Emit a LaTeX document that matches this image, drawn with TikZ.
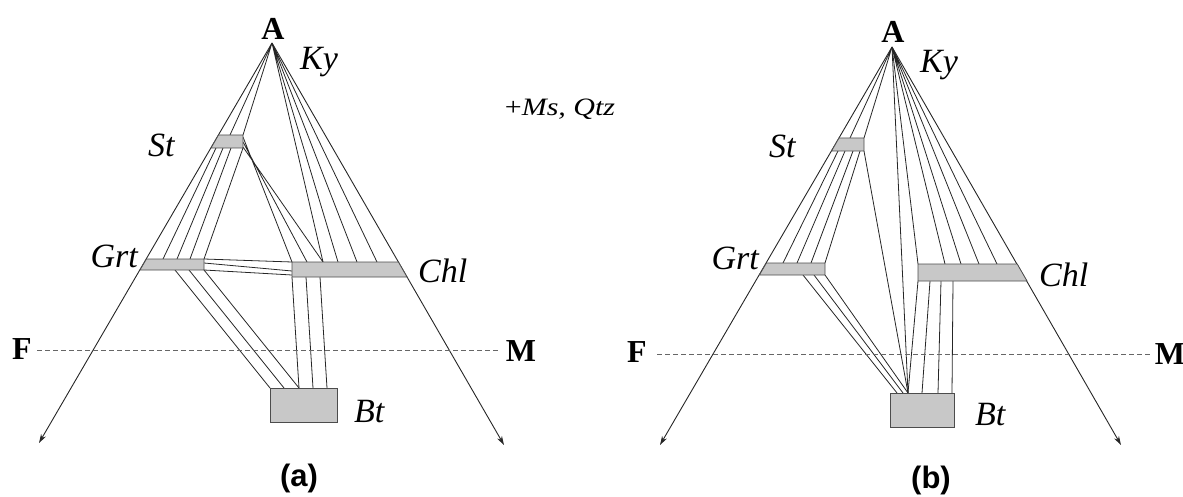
\documentclass[tikz,border=0pt]{standalone}
\usepackage{fontspec}
\setmainfont{Liberation Serif}
\newfontfamily\capfont{Liberation Sans}
\usetikzlibrary{arrows.meta}
\definecolor{boxgray}{RGB}{200,200,200}
\begin{document}
\begin{tikzpicture}[x=1pt,y=-1pt,
  tie/.style={line width=0.8pt,draw=black!85},
  edge/.style={line width=0.9pt,draw=black!85,-{Stealth[length=9pt,width=5.5pt]}},
  phase/.style={fill=boxgray,draw=black!70,line width=0.8pt},
  fm/.style={dash pattern=on 5pt off 3pt,draw=black!60,line width=0.8pt},
  lab/.style={font=\fontsize{34}{34}\selectfont\itshape,inner sep=0pt},
  small/.style={font=\fontsize{25}{25}\selectfont,inner sep=0pt,xscale=1.2},
  apex/.style={font=\fontsize{32}{32}\selectfont\bfseries,inner sep=0pt},
  panlab/.style={font=\capfont\bfseries\fontsize{31}{31}\selectfont,inner sep=0pt}]
\useasboundingbox (0,0) rectangle (1183,497);

%% ================= panel (a) =================
\coordinate (a0) at (272,43);
\coordinate (aL) at (39,443);
\coordinate (aR) at (504,445);
% tie lines
\draw[tie] (a0) -- (230,135) (a0) -- (243,135);
\draw[tie] (216,148) -- (163,259) (223,148) -- (177,259) (231,148) -- (190,259) (243,148) -- (204,259);
\draw[tie] (243,137) -- (292,262) (243,142) -- (307,262) (243,147) -- (323,262);
\draw[tie] (a0) -- (323,262) (a0) -- (338,262) (a0) -- (357,262) (a0) -- (377,262);
\draw[tie] (204,259) -- (292,262) (204,263) -- (292,271) (204,270) -- (292,275);
\draw[tie] (175,270) -- (270,388) (189,270) -- (284,388) (204,270) -- (299,388);
\draw[tie] (292,277) -- (299,388) (306,277) -- (313,388) (320,277) -- (327,388);
% outer edges
\draw[edge] (a0) -- (aL);
\draw[edge] (a0) -- (aR);
% phases
\draw[phase] (218.5,135) -- (243,135) -- (243,148) -- (211,148) -- cycle;
\draw[phase] (146.4,259) -- (204,259) -- (204,270) -- (140,270) -- cycle;
\draw[phase] (292,262) -- (398.4,262) -- (407,277) -- (292,277) -- cycle;
\draw[phase] (270,388) rectangle (337,422);
% labels
\node[apex,anchor=base] (Aa) at (273,40) {A};
\node[lab,anchor=base west] (Kya) at (300,70) {Ky};
\node[lab,anchor=base west] (Sta) at (148,157) {St};
\node[lab,anchor=base east] (Grta) at (138,267) {Grt};
\node[lab,anchor=base west] (Chla) at (418,282) {Chl};
\node[lab,anchor=base west] (Bta) at (354,422) {Bt};
\node[apex,anchor=base] (Fa) at (22,359) {F};
\node[apex,anchor=base] (Ma) at (521,361) {M};
\coordinate (fa1) at (37,350);
\coordinate (ma1) at (500,350);
\draw[fm] (fa1) -- (ma1);
\node[panlab] (capa) at (299,478) {(a)};

%% shared annotation
\node[small,anchor=base] (msq) at (560,116) {+\textit{Ms, Qtz}};

%% ================= panel (b) =================
\coordinate (b0) at (892,47);
\coordinate (bL) at (660,445);
\coordinate (bR) at (1121,445);
\coordinate (bP) at (908,393);
\draw[tie] (b0) -- (850,138) (b0) -- (864,138);
\draw[tie] (838,151) -- (783,263) (845,151) -- (797,263) (853,151) -- (811,263) (860,151) -- (825,263);
\draw[tie] (864,151) -- (bP);
\draw[tie] (b0) -- (bP);
\draw[tie] (b0) -- (918,264);
\draw[tie] (918,281) -- (bP);
\draw[tie] (b0) -- (945,264) (b0) -- (961,264) (b0) -- (979,264) (b0) -- (997,264);
\draw[tie] (803,275) -- (897,393) (814,275) -- (903,393) (825,275) -- (bP);
\draw[tie] (930,281) -- (922,393) (941,281) -- (938,393) (953,281) -- (952,393);
\draw[edge] (b0) -- (bL);
\draw[edge] (b0) -- (bR);
\draw[phase] (839,138) -- (864,138) -- (864,151) -- (831.5,151) -- cycle;
\draw[phase] (766.4,263) -- (825,263) -- (825,275) -- (759.4,275) -- cycle;
\draw[phase] (918,264) -- (1017.2,264) -- (1027,281) -- (918,281) -- cycle;
\draw[phase] (890,393) rectangle (954,427);
\node[apex,anchor=base] (Ab) at (893,43) {A};
\node[lab,anchor=base west] (Kyb) at (920,73) {Ky};
\node[lab,anchor=base west] (Stb) at (769,158) {St};
\node[lab,anchor=base east] (Grtb) at (759,269) {Grt};
\node[lab,anchor=base west] (Chlb) at (1039,286) {Chl};
\node[lab,anchor=base west] (Btb) at (975,425) {Bt};
\node[apex,anchor=base] (Fb) at (637,362) {F};
\node[apex,anchor=base] (Mb) at (1170,364) {M};
\coordinate (fb1) at (657,354);
\coordinate (mb1) at (1152,354);
\draw[fm] (fb1) -- (mb1);
\node[panlab] (capb) at (931,480) {(b)};
\end{tikzpicture}
\end{document}
